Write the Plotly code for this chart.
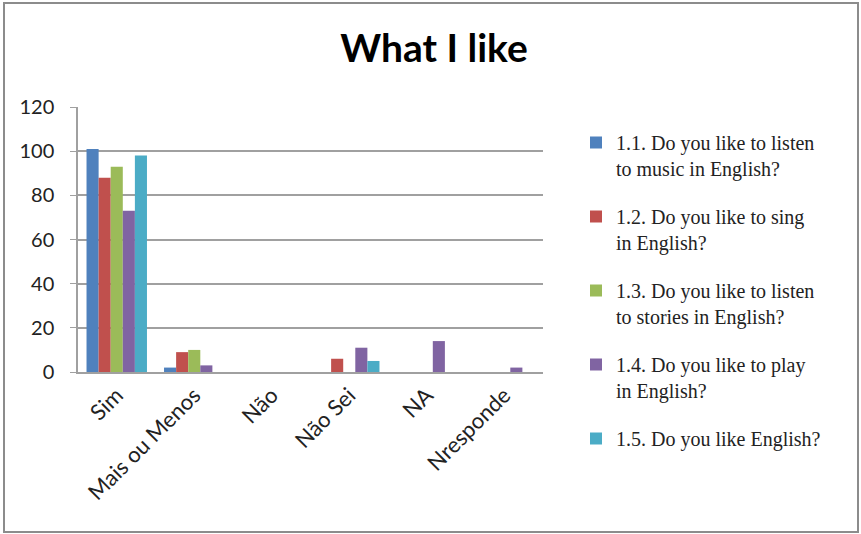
import plotly.graph_objects as go

categories = ["Sim", "Mais ou Menos", "Não", "Não Sei", "NA", "Nresponde"]
series_names = [
    "1.1. Do you like to listen<br>to music in English?",
    "1.2. Do you like to sing<br>in English?",
    "1.3. Do you like to listen<br>to stories in English?",
    "1.4. Do you like to play<br>in English?",
    "1.5. Do you like English?",
]
s1 = [101, 2, 0, 0, 0, 0]
s2 = [88, 9, 0, 6, 0, 0]
s3 = [93, 10, 0, 0, 0, 0]
s4 = [73, 3, 0, 11, 14, 2]
s5 = [98, 0, 0, 5, 0, 0]
y_ticks = [0, 20, 40, 60, 80, 100, 120]

colors = ["#4F81BD", "#C0504D", "#9BBB59", "#8064A2", "#4BACC6"]

W, H = 861, 534
L, R, T, B = 78, 318, 107, 162

fig = go.Figure()
for i, (name, vals) in enumerate(zip(series_names, [s1, s2, s3, s4, s5])):
    fig.add_trace(go.Bar(
        x=categories, y=vals, name=name,
        marker=dict(color=colors[i], line=dict(width=0)),
        legendgroup=f"g{i}",
    ))

fig.update_layout(
    width=W, height=H,
    margin=dict(l=L, r=R, t=T, b=B, autoexpand=False),
    paper_bgcolor="white", plot_bgcolor="white",
    barmode="group", bargap=0.22, bargroupgap=0,
    title=dict(text="<b>What I like</b>", x=434 / W, xref="container",
               xanchor="center", y=1 - 48 / H, yanchor="middle", yref="container",
               font=dict(family="Lato, Open Sans, sans-serif", size=39, color="black")),
    font=dict(family="Lato, Open Sans, sans-serif", size=20, color="#222222"),
    showlegend=True,
    legend=dict(
        xref="container", yref="container",
        x=576 / W, xanchor="left", y=1 - 123 / H, yanchor="top",
        font=dict(family="Liberation Serif, Times New Roman, serif", size=20, color="#222222"),
        valign="top", tracegroupgap=19, traceorder="grouped",
        bgcolor="rgba(0,0,0,0)", maxheight=520,
    ),
    xaxis=dict(
        type="category", tickangle=-45, showgrid=False,
        showline=True, linecolor="#A0A0A0", linewidth=1.5,
        ticks="", tickfont=dict(size=22, family="Lato, Open Sans, sans-serif", color="#222222"),
    ),
    yaxis=dict(
        range=[0, 120], tickvals=y_ticks, ticktext=[str(v) for v in y_ticks],
        showgrid=True, gridcolor="#A0A0A0", gridwidth=1.5,
        showline=True, linecolor="#A0A0A0", linewidth=1.5,
        ticks="outside", ticklen=6, tickcolor="#A0A0A0",
        ticklabelstandoff=12, zeroline=False,
        tickfont=dict(size=20, family="Lato, Open Sans, sans-serif", color="#222222"),
    ),
    shapes=[dict(
        type="rect", xref="paper", yref="paper",
        x0=(4 - L) / (W - L - R), x1=(858 - L) / (W - L - R),
        y0=(H - B - 532) / (H - T - B), y1=(H - B - 3) / (H - T - B),
        line=dict(color="#8C8C8C", width=2), fillcolor="rgba(0,0,0,0)", layer="below",
    )],
)

fig.write_html("out.html")
